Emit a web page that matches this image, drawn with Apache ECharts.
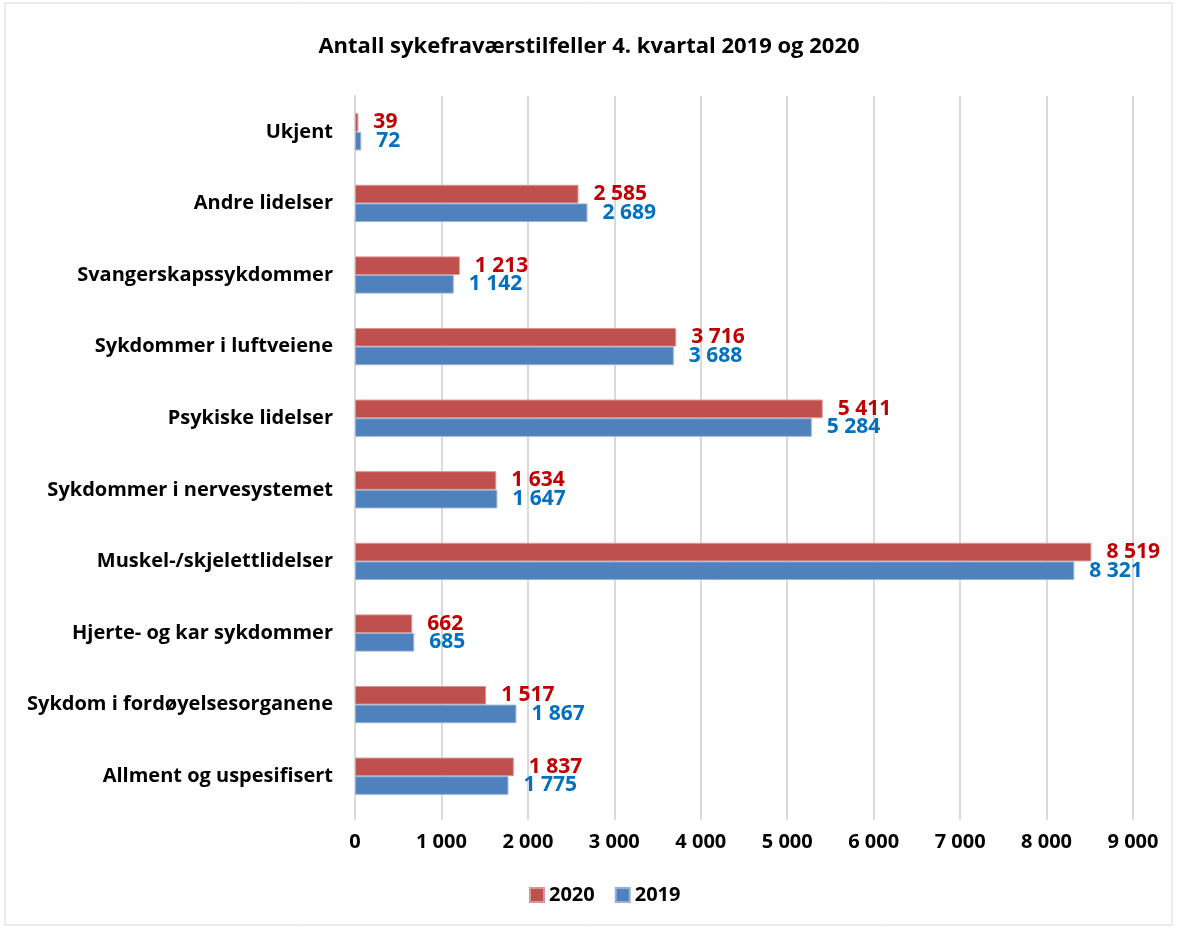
<!DOCTYPE html>
<html>
<head>
<meta charset="utf-8">
<script src="https://cdn.jsdelivr.net/npm/echarts@6/dist/echarts.min.js"></script>
<style>
  html, body { margin: 0; padding: 0; background: #fff; }
  #chart { width: 1178px; height: 930px; }
</style>
</head>
<body>
<div id="chart"></div>
<script>
// kategorier nedenfra og opp
const categories = [
  'Allment og uspesifisert',
  'Sykdom i fordøyelsesorganene',
  'Hjerte- og kar sykdommer',
  'Muskel-/skjelettlidelser',
  'Sykdommer i nervesystemet',
  'Psykiske lidelser',
  'Sykdommer i luftveiene',
  'Svangerskapssykdommer',
  'Andre lidelser',
  'Ukjent'
]
const values2020 = [1837, 1517, 662, 8519, 1634, 5411, 3716, 1213, 2585, 39]
const values2019 = [1775, 1867, 685, 8321, 1647, 5284, 3688, 1142, 2689, 72]

const fontFamily = '"Open Sans", "Noto Sans", sans-serif'
const fmt = function (v) {
  return String(v).replace(/\B(?=(\d{3})+(?!\d))/g, ' ')
}

const myChart = echarts.init(document.getElementById('chart'))
const option = {
  backgroundColor: '#fff',
  textStyle: { fontFamily: fontFamily },
  title: {
    text: 'Antall sykefraværstilfeller 4. kvartal 2019 og 2020',
    left: 'center',
    top: 31,
    textStyle: { fontSize: 22, fontWeight: 'bold', color: '#000', fontFamily: fontFamily }
  },
  graphic: [{
    type: 'rect',
    shape: { x: 5, y: 3, width: 1167, height: 922 },
    style: { fill: 'none', stroke: '#d9d9d9', lineWidth: 1 }
  }],
  legend: {
    data: ['2020', '2019'],
    bottom: 20,
    left: 524,
    itemWidth: 14,
    itemHeight: 14,
    itemGap: 20,
    icon: 'rect',
    textStyle: { fontSize: 20, fontWeight: 'bold', color: '#000', fontFamily: fontFamily }
  },
  grid: { left: 355, right: 45, top: 96, bottom: 118, containLabel: false },
  xAxis: {
    type: 'value',
    min: 0,
    max: 9000,
    interval: 1000,
    axisLine: { show: false },
    axisTick: { show: true, length: 8, lineStyle: { color: '#d9d9d9', width: 2 } },
    splitLine: { show: true, lineStyle: { color: '#d9d9d9', width: 2 } },
    axisLabel: {
      margin: 20,
      fontSize: 20,
      fontWeight: 'bold',
      color: '#000',
      fontFamily: fontFamily,
      formatter: fmt
    }
  },
  yAxis: {
    type: 'category',
    data: categories,
    axisLine: { show: true, lineStyle: { color: '#d9d9d9', width: 2 } },
    axisTick: { show: false },
    axisLabel: {
      margin: 22,
      fontSize: 20,
      fontWeight: 'bold',
      color: '#000',
      fontFamily: fontFamily
    }
  },
  series: [
    {
      name: '2020',
      type: 'bar',
      data: values2020,
      barGap: '0%',
      barCategoryGap: '48%',
      itemStyle: { color: '#C0504D', borderColor: '#D99694', borderWidth: 1 },
      label: {
        show: true,
        position: 'right',
        distance: 15,
        fontSize: 21,
        fontWeight: 'bold',
        color: '#C00000',
        fontFamily: fontFamily,
        formatter: function (p) { return fmt(p.value) }
      }
    },
    {
      name: '2019',
      type: 'bar',
      data: values2019,
      barGap: '0%',
      barCategoryGap: '48%',
      itemStyle: { color: '#4F81BD', borderColor: '#95B3D7', borderWidth: 1 },
      label: {
        show: true,
        position: 'right',
        distance: 15,
        fontSize: 21,
        fontWeight: 'bold',
        color: '#0070C0',
        fontFamily: fontFamily,
        formatter: function (p) { return fmt(p.value) }
      }
    }
  ]
}
myChart.setOption(option)
</script>
</body>
</html>
